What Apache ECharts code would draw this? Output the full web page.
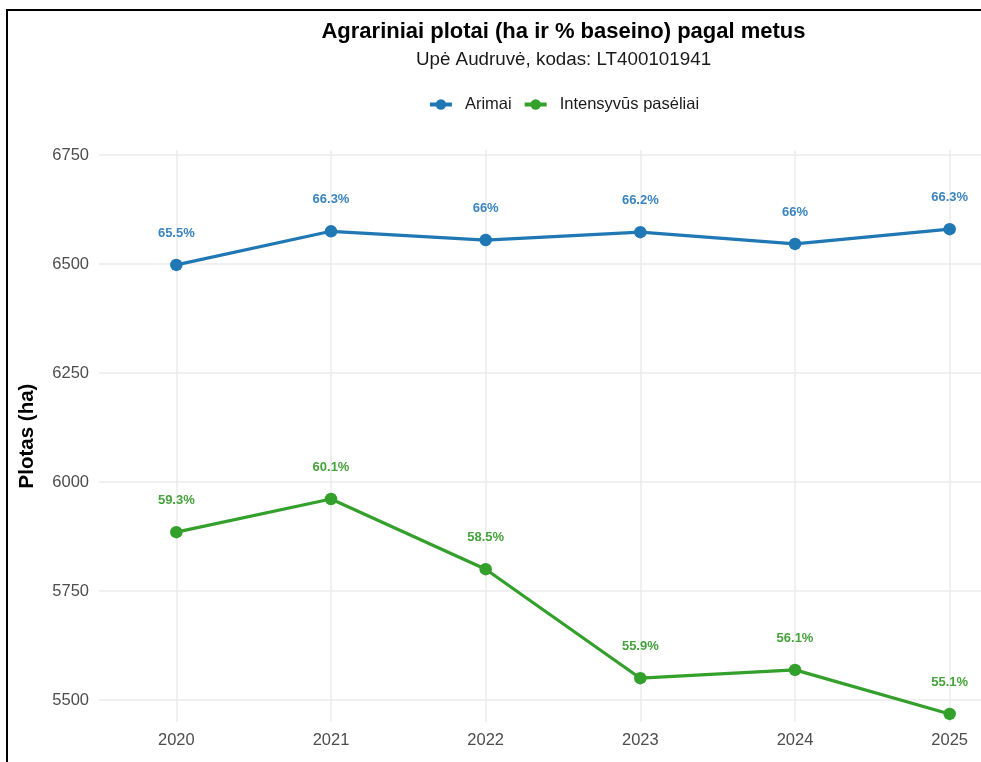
<!DOCTYPE html>
<html>
<head>
<meta charset="utf-8">
<script src="https://cdn.jsdelivr.net/npm/echarts@6/dist/echarts.min.js"></script>
<style>
  html, body { margin: 0; padding: 0; background: #fff; overflow: hidden; width: 981px; height: 762px; }
  #frame { position: absolute; left: 6px; top: 9px; width: 2000px; height: 2000px; border-top: 2px solid #000; border-left: 2px solid #000; box-sizing: border-box; }
  #chart { position: absolute; left: 0; top: 0; width: 1127px; height: 762px; }
</style>
</head>
<body>
<div id="frame"></div>
<div id="chart"></div>
<script>
const years = [2020, 2021, 2022, 2023, 2024, 2025];
const arimaiHa = [6498, 6575, 6555, 6573, 6546, 6580];
const arimaiPct = ['65.5%', '66.3%', '66%', '66.2%', '66%', '66.3%'];
const intensHa = [5885, 5961, 5800, 5550, 5569, 5468];
const intensPct = ['59.3%', '60.1%', '58.5%', '55.9%', '56.1%', '55.1%'];
const yTicks = [5500, 5750, 6000, 6250, 6500, 6750];

const chart = echarts.init(document.getElementById('chart'), null, { renderer: 'canvas' });
const font = 'Liberation Sans, Arial, sans-serif';

function mk(name, ha, pct, color, labelColor) {
  return {
    name: name,
    type: 'line',
    data: years.map((y, i) => [y, ha[i]]),
    symbol: 'circle',
    symbolSize: 12.5,
    lineStyle: { width: 3.2, color: color },
    itemStyle: { color: color },
    label: {
      show: true,
      position: 'top',
      distance: 19,
      fontFamily: font,
      fontSize: 13,
      fontWeight: 'bold',
      color: labelColor,
      formatter: p => pct[p.dataIndex]
    },
    emphasis: { disabled: true },
    animation: false
  };
}

chart.setOption({
  animation: false,
  textStyle: { fontFamily: font },
  title: [
    { text: 'Agrariniai plotai (ha ir % baseino) pagal metus', left: 'center', top: 21, padding: 0,
      textStyle: { fontFamily: font, fontSize: 22, fontWeight: 'bold', color: '#000' } },
    { text: 'Upė Audruvė, kodas: LT400101941', left: 'center', top: 50, padding: 0,
      textStyle: { fontFamily: font, fontSize: 18.8, fontWeight: 'normal', color: '#1a1a1a' } }
  ],
  legend: {
    top: 96, left: 'center', padding: 0, itemGap: 11,
    itemWidth: 22, itemHeight: 13,
    lineStyle: { width: 4 },
    textStyle: { fontFamily: font, fontSize: 16.5, color: '#1a1a1a', padding: [0, 0, 0, 8] },
    data: ['Arimai', 'Intensyvūs pasėliai']
  },
  grid: { left: 99, right: 100, top: 150, bottom: 40, containLabel: false },
  xAxis: {
    type: 'value', min: 2019.5, max: 2025.5, minInterval: 1, maxInterval: 1,
    axisLine: { show: false }, axisTick: { show: false },
    axisLabel: { margin: 10, fontFamily: font, fontSize: 16.5, color: '#4d4d4d',
      showMinLabel: false, showMaxLabel: false,
      formatter: v => (Number.isInteger(v) && years.includes(v)) ? String(v) : '' },
    splitLine: { show: true, showMinLine: false, showMaxLine: false, lineStyle: { color: '#ebebeb', width: 1.5 } }
  },
  yAxis: {
    type: 'value', min: 5449.5, max: 6761.5, minInterval: 250, maxInterval: 250, splitNumber: 5,
    name: 'Plotas (ha)', nameLocation: 'middle', nameGap: 61,
    nameTextStyle: { fontFamily: font, fontSize: 20.5, fontWeight: 'bold', color: '#000' },
    axisLine: { show: false }, axisTick: { show: false },
    axisLabel: { margin: 10, fontFamily: font, fontSize: 16.5, color: '#4d4d4d',
      showMinLabel: false, showMaxLabel: false,
      formatter: v => yTicks.includes(v) ? String(v) : '' },
    splitLine: { show: true, showMinLine: false, showMaxLine: false, lineStyle: { color: '#ebebeb', width: 1.5 } }
  },
  series: [
    mk('Arimai', arimaiHa, arimaiPct, '#1f78b4', '#3a84bf'),
    mk('Intensyvūs pasėliai', intensHa, intensPct, '#33a02c', '#45a33c')
  ]
});
</script>
</body>
</html>
